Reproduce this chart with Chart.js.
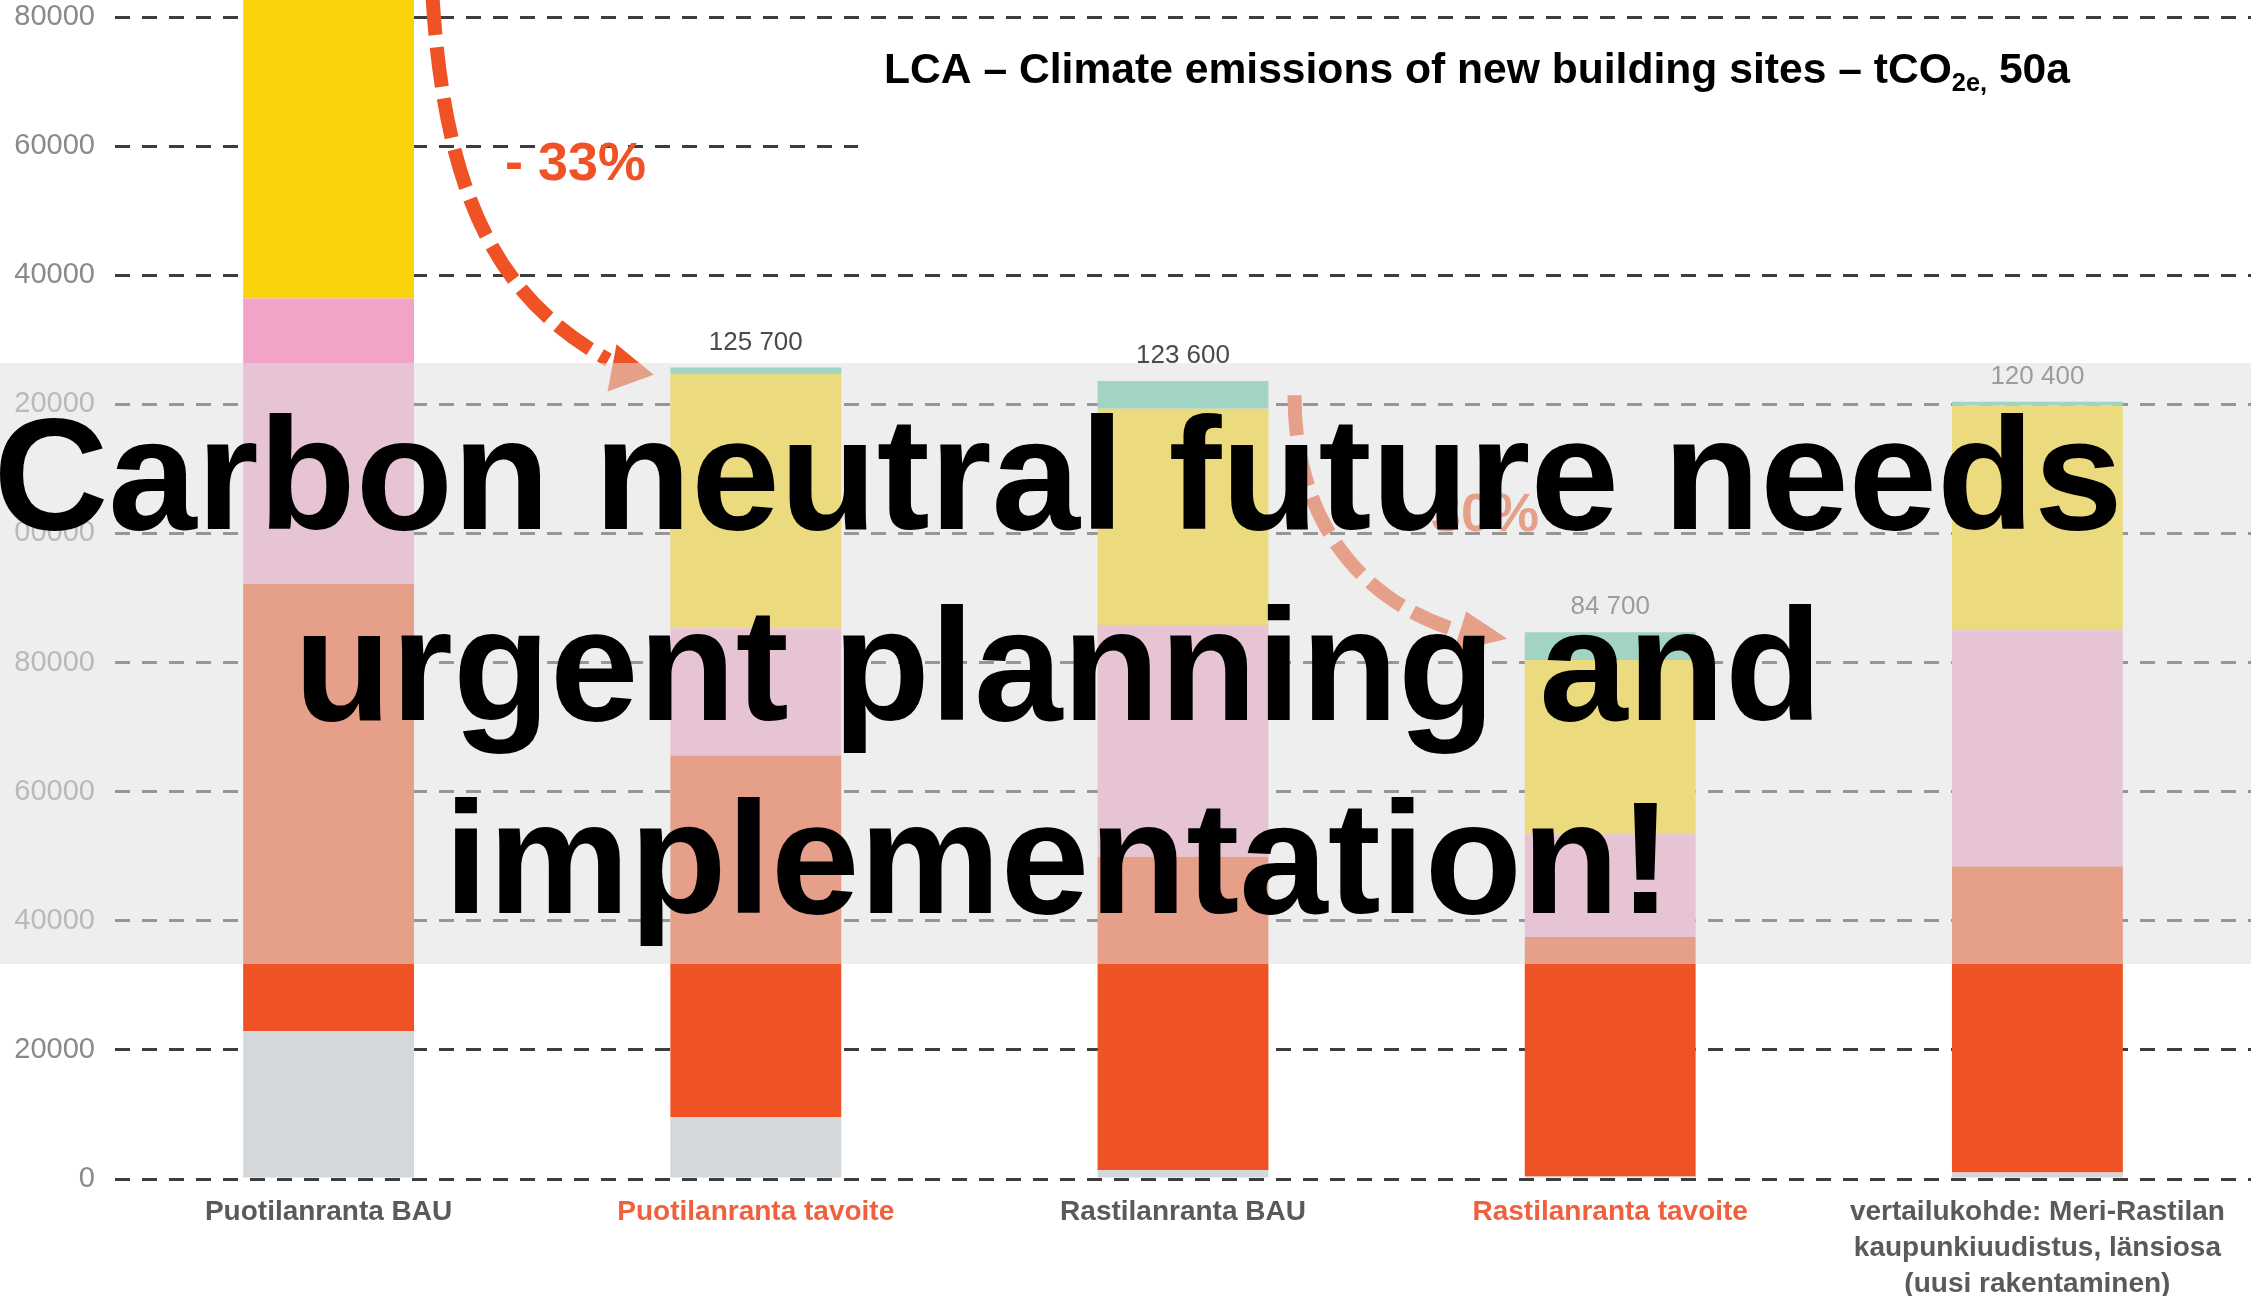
<!DOCTYPE html>
<html>
<head>
<meta charset="utf-8">
<script src="https://cdn.jsdelivr.net/npm/chart.js@4.4.1/dist/chart.umd.min.js"></script>
<style>
  html, body { margin: 0; padding: 0; background: #fff; }
  #wrap { width: 2251px; height: 1296px; }
</style>
</head>
<body>
<div id="wrap"><canvas id="chart" width="2251" height="1296"></canvas></div>
<script>
// categories and stacked parts (tCO2e), bottom to top
const categories = [
  'Puotilanranta BAU',
  'Puotilanranta tavoite',
  'Rastilanranta BAU',
  'Rastilanranta tavoite',
  ['vertailukohde: Meri-Rastilan', 'kaupunkiuudistus, länsiosa', '(uusi rakentaminen)']
];
const grayPart   = [22900, 9600, 1400, 400, 1000];
const redPart    = [69300, 56000, 48500, 37100, 47400];
const pinkPart   = [44200, 19700, 35900, 15900, 36600];
const yellowPart = [50200, 39400, 33500, 27000, 34800];
const tealPart   = [1000, 1000, 4300, 4300, 600];
// tick labels as they show (left digit cut off)
const yTickLabels = ['0', '20000', '40000', '60000', '80000', '00000', '20000', '40000', '60000', '80000'];

const FONT = '"Liberation Sans", Arial, Helvetica, sans-serif';
const labelColors = ['#5a5a5a', '#f0603c', '#5a5a5a', '#f0603c', '#5a5a5a'];

// dashed arrows, in [category index, value] units
const arrow33 = {
  start: [0.243, 183400], c1: [0.272, 151700], c2: [0.40, 136200], end: [0.655, 126900],
  tip: [0.761, 124600], base1: [0.674, 129300], base2: [0.653, 122000]
};
const arrow30 = {
  start: [2.261, 121400], c1: [2.261, 102200], c2: [2.413, 89800], end: [2.635, 85100],
  tip: [2.759, 83700], base1: [2.663, 87900], base2: [2.633, 81700]
};

function fmt(v) {
  return String(Math.round(v / 100) * 100).replace(/\B(?=(\d{3})+(?!\d))/g, ' ');
}

function drawArrow(ctx, xs, ys, a, color) {
  const P = p => [xs.getPixelForValue(p[0]), ys.getPixelForValue(p[1])];
  const s = P(a.start), c1 = P(a.c1), c2 = P(a.c2), e = P(a.end);
  const t = P(a.tip), b1 = P(a.base1), b2 = P(a.base2);
  ctx.save();
  ctx.strokeStyle = color;
  ctx.lineWidth = 14;
  ctx.setLineDash([40, 12]);
  ctx.beginPath();
  ctx.moveTo(s[0], s[1]);
  ctx.bezierCurveTo(c1[0], c1[1], c2[0], c2[1], e[0], e[1]);
  ctx.stroke();
  ctx.setLineDash([]);
  ctx.fillStyle = color;
  ctx.beginPath();
  ctx.moveTo(t[0], t[1]);
  ctx.lineTo(b1[0], b1[1]);
  ctx.lineTo(b2[0], b2[1]);
  ctx.closePath();
  ctx.fill();
  ctx.restore();
}

const overlay = {
  id: 'overlay',
  beforeDatasetsDraw(chart) {
    // white box behind the title hides the gridline there
    const ctx = chart.ctx;
    ctx.save();
    ctx.fillStyle = '#fff';
    ctx.fillRect(858, 32, 2251 - 858, 220);
    ctx.restore();
  },
  afterDatasetsDraw(chart) {
    const ctx = chart.ctx;
    const xs = chart.scales.x, ys = chart.scales.y;

    // totals above the bars
    ctx.save();
    ctx.font = '26px ' + FONT;
    ctx.fillStyle = '#4a4a4a';
    ctx.textAlign = 'center';
    ctx.textBaseline = 'alphabetic';
    categories.forEach((c, i) => {
      const total = grayPart[i] + redPart[i] + pinkPart[i] + yellowPart[i] + tealPart[i];
      ctx.fillText(fmt(total), xs.getPixelForValue(i), ys.getPixelForValue(total) - 18);
    });
    ctx.restore();

    // reduction arrows
    drawArrow(ctx, xs, ys, arrow33, '#ef5224');
    drawArrow(ctx, xs, ys, arrow30, '#ef5224');
    ctx.save();
    ctx.font = 'bold 54px ' + FONT;
    ctx.fillStyle = '#ef5224';
    ctx.fillText('- 33%', 505, 180);
    ctx.fillText('- 30%', 1398, 531);
    ctx.restore();

    // title with subscript
    ctx.save();
    ctx.fillStyle = '#000';
    const big = 'bold 42px ' + FONT, small = 'bold 25px ' + FONT;
    const t1 = 'LCA \u2013 Climate emissions of new building sites \u2013 tCO', sub = '2e,', t2 = ' 50a';
    ctx.font = big;
    const w1 = ctx.measureText(t1).width, w2 = ctx.measureText(t2).width;
    ctx.font = small;
    const ws = ctx.measureText(sub).width;
    const sc = 1186 / (w1 + ws + w2);
    ctx.translate(884, 83);
    ctx.scale(sc, 1);
    ctx.font = big;
    ctx.fillText(t1, 0, 0);
    ctx.fillText(t2, w1 + ws, 0);
    ctx.font = small;
    ctx.fillText(sub, w1, 8);
    ctx.restore();

    // pale band laid over the middle of the picture
    ctx.save();
    ctx.fillStyle = 'rgba(222,224,223,0.55)';
    ctx.fillRect(0, 363, chart.width, 601);
    ctx.restore();

    // headline text
    ctx.save();
    ctx.font = 'bold 159px ' + FONT;
    ctx.fillStyle = '#000';
    ctx.textAlign = 'center';
    ctx.fillText('Carbon neutral future needs', 1058, 529);
    ctx.fillText('urgent planning and', 1058, 720);
    ctx.fillText('implementation!', 1058, 913);
    ctx.restore();
  }
};

function part(label, data, color) {
  return { label, data, backgroundColor: color, borderWidth: 0, clip: false };
}

new Chart(document.getElementById('chart'), {
  type: 'bar',
  data: {
    labels: categories,
    datasets: [
      part('gray', grayPart, '#d5d8da'),
      part('red', redPart, '#ef5225'),
      part('pink', pinkPart, '#f2a3c8'),
      part('yellow', yellowPart, '#fbd30a'),
      part('teal', tealPart, '#58c6a3')
    ]
  },
  options: {
    responsive: false,
    animation: false,
    layout: { padding: { top: 17, right: 0, bottom: 0, left: 0 } },
    datasets: { bar: { categoryPercentage: 1, barPercentage: 0.4 } },
    plugins: { legend: { display: false }, tooltip: { enabled: false } },
    scales: {
      x: {
        stacked: true,
        grid: { display: false },
        border: { display: false },
        afterFit: s => { s.height = 117; },
        ticks: {
          autoSkip: false,
          maxRotation: 0,
          padding: 7,
          font: { family: FONT, size: 28, weight: 'bold', lineHeight: 36 / 28 },
          color: c => labelColors[c.index]
        }
      },
      y: {
        stacked: true,
        min: 0,
        max: 180000,
        afterFit: s => { s.width = 115; s.paddingTop = 0; s.paddingBottom = 0; },
        grid: { color: '#3d3d3d', lineWidth: 3, drawTicks: false },
        border: { display: false, dash: [15, 12] },
        ticks: {
          stepSize: 20000,
          padding: 20,
          font: { family: FONT, size: 29, lineHeight: 1 },
          color: '#8a8a8a',
          callback: (v, i) => yTickLabels[i]
        }
      }
    }
  },
  plugins: [overlay]
});
</script>
</body>
</html>
